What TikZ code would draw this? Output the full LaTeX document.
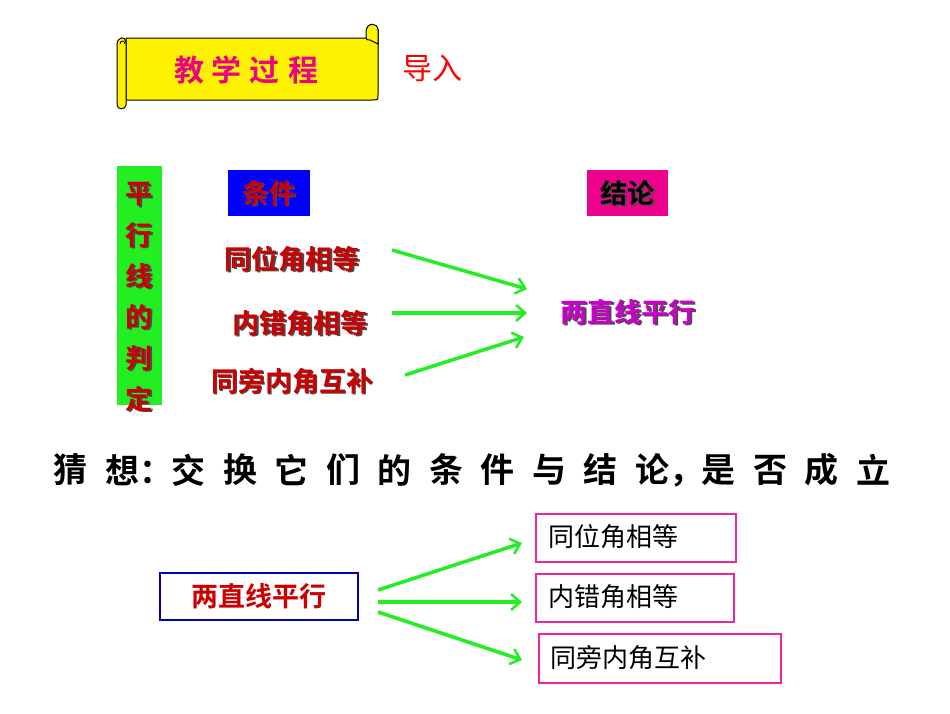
\documentclass[tikz,border=0pt]{standalone}
\usepackage{fontspec}
\setmainfont{Liberation Sans}
\newfontfamily\cjk{Noto Sans CJK SC}
\newfontfamily\cjkb{Noto Sans CJK SC Bold}
\usetikzlibrary{arrows.meta}
\definecolor{tred}{HTML}{CC0000}
\definecolor{tmag}{HTML}{CC00CC}
\definecolor{gar}{HTML}{22EE22}
\tikzset{
 shd/.style={font=\cjkb\fontsize{27}{27}\selectfont},
 arr/.style={draw=gar,line width=3.5pt,-{Straight Barb[length=9pt,width=16pt,line width=2.5pt]}},
 pbox/.style={draw=magenta!80!pink,line width=1.5pt,font=\cjk\fontsize{26}{26}\selectfont,anchor=north west,inner sep=0pt}
}
\newcommand{\shtext}[4]{% name, pos, color, text
 \node[shd,text=black!70] at ($(#2)+(1.6,1.6)$) {#4};
 \node[shd,text=#3] (#1) at (#2) {#4};}
\usetikzlibrary{calc}
\begin{document}
\begin{tikzpicture}[x=1pt,y=-1pt]
\useasboundingbox[fill=white] (0,0) rectangle (950,713);
% scroll
\draw[fill=yellow,line width=1pt] (126,38) -- (370,38) -- (378,30) -- (378,95) .. controls (378,100) .. (372,100) -- (126,100) -- cycle;
\draw[fill=yellow,line width=1pt] (366,32) .. controls (366,22) and (378,22) .. (378,30) -- (378,44) -- (370,40) .. controls (366,40) .. (366,32);
\draw[fill=yellow,line width=1pt] (117,45) .. controls (117,36) and (126,36) .. (126,42) -- (126,105) .. controls (126,110) and (117,110) .. (117,105) -- cycle;
\draw[line width=0.8pt] (120,44) .. controls (120,40) and (125,40) .. (125,44);
\node[font=\cjkb\fontsize{30}{30}\selectfont,text=magenta!90!red] (ttl) at (246,70) {教\hspace{8pt}学\hspace{8pt}过\hspace{8pt}程};
\node[font=\cjk\fontsize{30}{30}\selectfont,text=red] (intro) at (432,68) {导入};
% green box
\node[fill=gar,minimum width=45pt,minimum height=239pt,inner sep=0pt] (gb) at (139.5,285.5) {};
\foreach \c [count=\i from 0] in {平,行,线,的,判,定}
 \shtext{g\i}{139,{194+\i*41}}{tred}{\c};
% headings
\node[fill=blue,minimum width=82pt,minimum height=46pt] (tj) at (269,193) {};
\shtext{tjt}{269,193}{tred}{条件};
\node[fill=magenta,minimum width=81pt,minimum height=46pt] (jl) at (627.5,193) {};
\shtext{jlt}{627.5,193}{black}{结论};
\shtext{c1}{292,259}{tred}{同位角相等}
\shtext{c2}{300,323}{tred}{内错角相等}
\shtext{c3}{292,381}{tred}{同旁内角互补}
\shtext{r}{628,312}{tmag}{两直线平行}
\coordinate (a1) at (392,250); \coordinate (a2) at (392,313); \coordinate (a3) at (405,375);
\coordinate (b1) at (527,289); \coordinate (b2) at (527,313); \coordinate (b3) at (524,337);
\draw[arr] (a1) -- (b1); \draw[arr] (a2) -- (b2); \draw[arr] (a3) -- (b3);
% conjecture
\foreach \c [count=\i from 0] in {猜,想：,交,换,它,们,的,条,件,与,结,论，,是,否,成,立}
 \node[font=\cjkb\fontsize{34}{34}\selectfont,anchor=west] (q\i) at ({50+\i*51.5 + (\i>1)*15 + (\i>11)*15},470) {\c};
% bottom
\node[draw=blue!70!black,line width=1.5pt,minimum width=198pt,minimum height=47pt,font=\cjkb\fontsize{27}{27}\selectfont,text=tred] (L) at (259,596.5) {两直线平行};
\node[pbox,minimum width=200pt,minimum height=48pt] (p1) at (535,513) {};
\node[font=\cjk\fontsize{26}{26}\selectfont,anchor=west] at (545,537) {同位角相等};
\node[pbox,minimum width=198pt,minimum height=48pt] (p2) at (535,573) {};
\node[font=\cjk\fontsize{26}{26}\selectfont,anchor=west] at (545,597) {内错角相等};
\node[pbox,minimum width=242pt,minimum height=49pt] (p3) at (538,633) {};
\node[font=\cjk\fontsize{26}{26}\selectfont,anchor=west] at (547,658) {同旁内角互补};
\coordinate (s1) at (378,590); \coordinate (s2) at (378,602); \coordinate (s3) at (378,612);
\coordinate (t1) at (522,543); \coordinate (t2) at (522,602); \coordinate (t3) at (522,660);
\draw[arr] (s1) -- (t1); \draw[arr] (s2) -- (t2); \draw[arr] (s3) -- (t3);
\end{tikzpicture}
\end{document}
